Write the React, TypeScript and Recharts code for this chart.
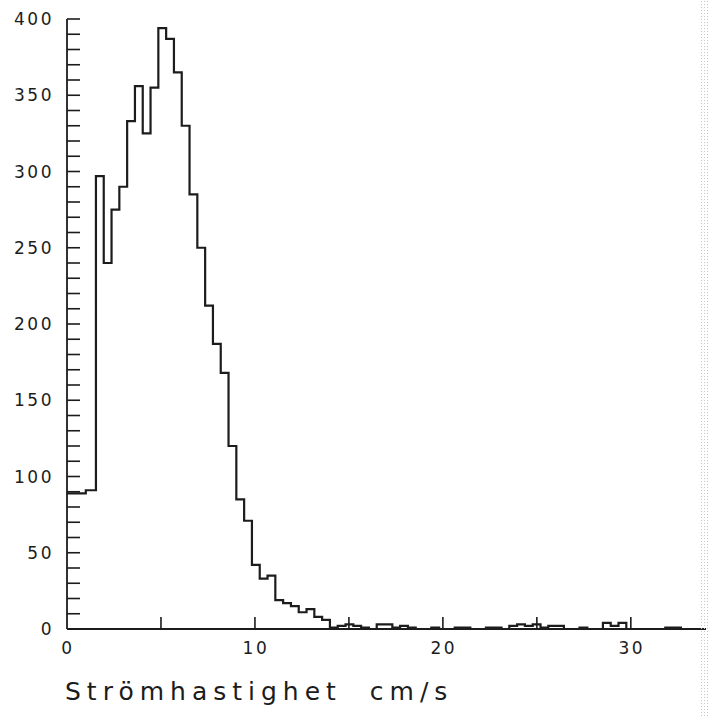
import React from 'react'
import { LineChart, Line, XAxis, YAxis } from 'recharts'

// histogram of current speed, counts per bin
const binWidth = 0.415
const firstEdge = 1.54
const lowEdges = [0, 1.0]
const lowCounts = [89, 91]
const counts = [
  297, 240, 275, 290, 333, 356, 325, 355, 394, 387,
  365, 330, 285, 250, 212, 187, 168, 120, 85, 71,
  42, 33, 35, 19, 17, 15, 11, 13, 8, 6,
  1, 2, 3, 2, 1, 0, 3, 3, 1, 2,
  1, 0, 0, 1, 0, 0, 1, 1, 0, 0,
  1, 1, 0, 2, 3, 2, 3, 1, 2, 2,
  0, 0, 1, 0, 0, 4, 2, 4, 0, 0,
  0, 0, 0, 1, 1, 0, 0, 0, 0,
]
const xMax = 34
const xTicks = [0, 5, 10, 15, 20, 25, 30]
const xLabels = [0, 10, 20, 30]
const yLabels = [0, 50, 100, 150, 200, 250, 300, 350, 400]
const yMinorStep = 10

const yTicks: number[] = []
for (let v = 0; v <= 400; v += yMinorStep) yTicks.push(v)

const data = [
  ...lowEdges.map((x, i) => ({ x, count: lowCounts[i] })),
  ...counts.map((c, i) => ({ x: firstEdge + i * binWidth, count: c })),
  { x: xMax, count: counts[counts.length - 1] },
]

const ink = '#1c1c1c'
const font = '"DejaVu Sans", sans-serif'

const YTick = (props: any) => {
  const { x, y, payload } = props
  const showLabel = yLabels.includes(payload.value)
  return (
    <g>
      <line x1={x} x2={x + 13} y1={y} y2={y} stroke={ink} strokeWidth={1.6} />
      {showLabel && (
        <text
          x={x - 13}
          y={y}
          dy={6}
          textAnchor="end"
          fill={ink}
          fontFamily={font}
          fontSize={17}
          letterSpacing={2.5}
        >
          {payload.value}
        </text>
      )}
    </g>
  )
}

const XTick = (props: any) => {
  const { x, y, payload } = props
  const showLabel = xLabels.includes(payload.value)
  return (
    <g>
      {payload.value !== 0 && (
        <line x1={x} x2={x} y1={y} y2={y - 12} stroke={ink} strokeWidth={1.6} />
      )}
      {showLabel && (
        <text
          x={x + 1}
          y={y + 25}
          textAnchor="middle"
          fill={ink}
          fontFamily={font}
          fontSize={17}
          letterSpacing={2.5}
        >
          {payload.value}
        </text>
      )}
    </g>
  )
}

const AxisTitle = (props: any) => {
  const { viewBox } = props
  return (
    <text
      x={viewBox.x - 2}
      y={viewBox.y + 71}
      fill={ink}
      fontFamily={font}
      fontSize={25}
      letterSpacing={6}
      style={{ whiteSpace: 'pre' }}
    >
      Strömhastighet  cm/s
    </text>
  )
}

export default function App() {
  return (
    <div style={{ position: 'absolute', left: 0, top: 0, width: 709, height: 716, background: '#fff' }}>
      <LineChart width={709} height={716} data={data} margin={{ top: 19, right: 3, left: 0, bottom: 0 }}>
        <XAxis
          dataKey="x"
          type="number"
          domain={[0, xMax]}
          ticks={xTicks}
          interval={0}
          height={87}
          tickSize={0}
          tickMargin={0}
          tickLine={false}
          tick={<XTick />}
          axisLine={{ stroke: ink, strokeWidth: 1.8 }}
          label={{ content: <AxisTitle /> }}
        />
        <YAxis
          type="number"
          domain={[0, 400]}
          ticks={yTicks}
          interval={0}
          width={67}
          tickSize={0}
          tickMargin={0}
          tickLine={false}
          tick={<YTick />}
          axisLine={{ stroke: ink, strokeWidth: 1.8 }}
        />
        <Line
          type="stepAfter"
          dataKey="count"
          stroke={ink}
          strokeWidth={2.2}
          dot={false}
          isAnimationActive={false}
        />
      </LineChart>
      <div
        style={{
          position: 'absolute',
          left: 700,
          top: 0,
          width: 9,
          height: 716,
          backgroundImage: 'radial-gradient(#c8c8c8 0.7px, transparent 0.9px)',
          backgroundSize: '3px 3px',
        }}
      />
    </div>
  )
}
